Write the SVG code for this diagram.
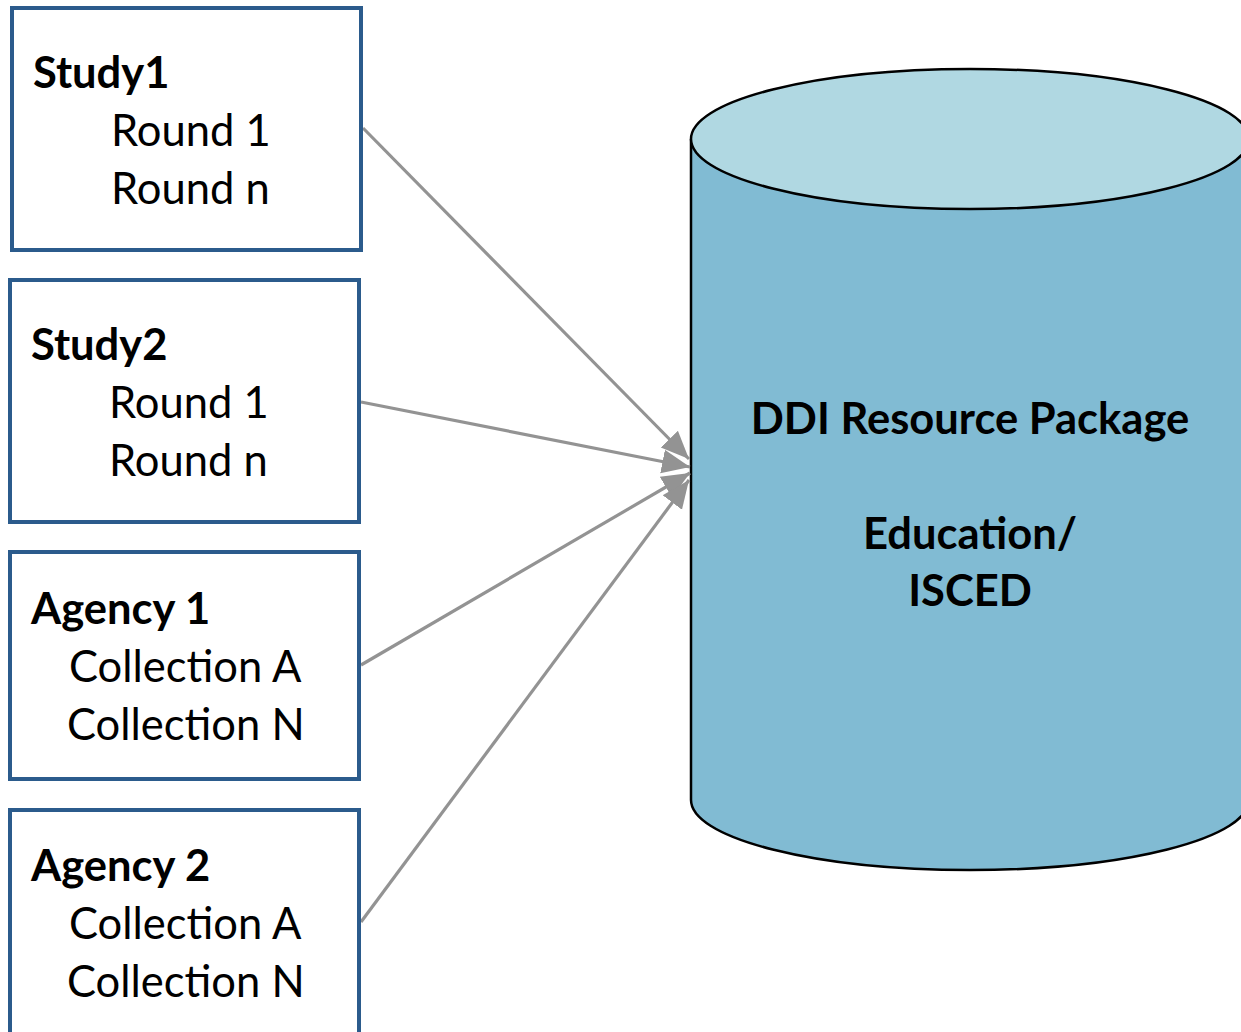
<svg xmlns="http://www.w3.org/2000/svg" width="1241" height="1032" viewBox="0 0 1241 1032">
<defs>
<style>
.box{fill:#fff;stroke:#2B5B8C;stroke-width:4}
.t{font-family:Lato,"Open Sans",sans-serif;font-size:43.5px;fill:#000}
.b{font-weight:bold}
.conn{stroke:#939393;stroke-width:3.2;fill:none;marker-end:url(#ah)}
</style>
<marker id="ah" markerUnits="userSpaceOnUse" markerWidth="30" markerHeight="30" viewBox="0 0 30 30" refX="28" refY="15" orient="auto">
<path d="M0,3 L28,15 L0,27 Z" fill="#939393"/>
</marker>
</defs>
<g id="cylinder">
<path d="M691,139 L691,800 A279,70 0 0 0 1249,800 L1249,139" fill="#81BBD3" stroke="#000" stroke-width="2.5"/>
<ellipse cx="970" cy="139" rx="279" ry="70" fill="#B0D8E2" stroke="#000" stroke-width="2.5"/>
<text class="t b" x="970" y="434" text-anchor="middle">DDI Resource Package</text>
<text class="t b" x="970" y="549" text-anchor="middle">Education/</text>
<text class="t b" x="970" y="606" text-anchor="middle">ISCED</text>
</g>
<g id="connectors">
<line class="conn" x1="363" y1="128" x2="689" y2="459"/>
<line class="conn" x1="361" y1="402" x2="690" y2="467"/>
<line class="conn" x1="361" y1="665" x2="690" y2="473"/>
<line class="conn" x1="361" y1="922" x2="689" y2="480"/>
</g>
<g id="study1">
<rect class="box" x="12" y="8" width="349" height="242"/>
<text class="t b" x="33" y="88">Study1</text>
<text class="t" x="111" y="146">Round 1</text>
<text class="t" x="111" y="204">Round n</text>
</g>
<g id="study2">
<rect class="box" x="10" y="280" width="349" height="242"/>
<text class="t b" x="31" y="360">Study2</text>
<text class="t" x="109" y="418">Round 1</text>
<text class="t" x="109" y="476">Round n</text>
</g>
<g id="agency1">
<rect class="box" x="10" y="552" width="349" height="227"/>
<text class="t b" x="31" y="624">Agency 1</text>
<text class="t" x="69" y="682">Collection A</text>
<text class="t" x="67" y="740">Collection N</text>
</g>
<g id="agency2">
<rect class="box" x="10" y="810" width="349" height="240"/>
<text class="t b" x="31" y="881">Agency 2</text>
<text class="t" x="69" y="939">Collection A</text>
<text class="t" x="67" y="997">Collection N</text>
</g>
</svg>
